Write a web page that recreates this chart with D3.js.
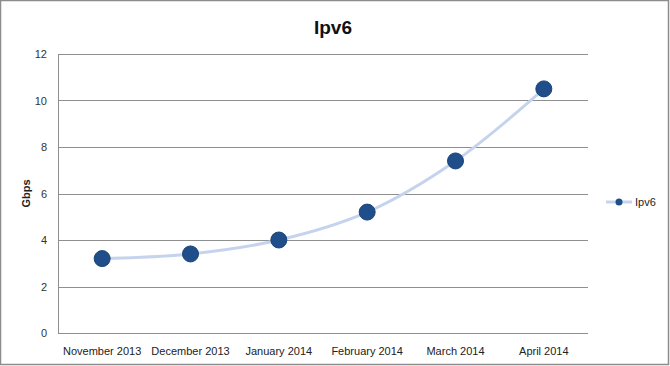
<!DOCTYPE html>
<html><head><meta charset="utf-8">
<script src="https://cdn.jsdelivr.net/npm/d3@7"></script>
<style>body{margin:0;background:#fff}svg{display:block;font-family:"Liberation Sans",Arial,sans-serif}</style>
</head><body>
<svg id="c" width="670" height="366"></svg>
<script>
const categories = ["November 2013","December 2013","January 2014","February 2014","March 2014","April 2014"];
const values = [3.2, 3.4, 4.0, 5.2, 7.4, 10.5];
const yTicks = [0, 2, 4, 6, 8, 10, 12];
const seriesName = "Ipv6";

const svg = d3.select("#c");
const W = 670, H = 366;
const m = {l: 58, r: 82, t: 54, b: 33};
const x = d3.scaleBand().domain(categories).range([m.l, W - m.r]);
const y = d3.scaleLinear().domain([0, 12]).range([H - m.b, m.t]);

svg.append("rect").attr("x", 0.5).attr("y", 0.5).attr("width", W - 2).attr("height", H - 2)
  .attr("fill", "#fff").attr("stroke", "#8c8c8c").attr("stroke-width", 1.5);

// gridlines
svg.append("g").selectAll("line").data(yTicks).join("line")
  .attr("x1", m.l).attr("x2", W - m.r)
  .attr("y1", d => Math.round(y(d)) + 0.5).attr("y2", d => Math.round(y(d)) + 0.5)
  .attr("stroke", "#8f8f8f").attr("stroke-width", 1);
svg.append("line").attr("x1", m.l + 0.5).attr("x2", m.l + 0.5)
  .attr("y1", y(12)).attr("y2", y(0)).attr("stroke", "#8f8f8f");

// y tick labels
svg.append("g").selectAll("text").data(yTicks).join("text")
  .attr("x", m.l - 11).attr("y", d => y(d) + 4).attr("text-anchor", "end")
  .attr("font-size", 11).attr("fill", "#333").text(d => d);

// x labels
svg.append("g").selectAll("text").data(categories).join("text")
  .attr("x", d => x(d) + x.bandwidth() / 2).attr("y", H - m.b + 22)
  .attr("text-anchor", "middle").attr("font-size", 11).attr("fill", "#222").text(d => d);

// y axis title
svg.append("text").attr("transform", `translate(30,${(y(12)+y(0))/2}) rotate(-90)`)
  .attr("text-anchor", "middle").attr("font-size", 11).attr("font-weight", "bold").attr("fill", "#222").text("Gbps");

// title
svg.append("text").attr("x", 333).attr("y", 34).attr("text-anchor", "middle")
  .attr("font-size", 19).attr("font-weight", "bold").attr("fill", "#111").text(seriesName);

const cx = d => x(d) + x.bandwidth() / 2;
const pts = categories.map((c, i) => [cx(c), y(values[i])]);
svg.append("path").attr("d", d3.line().curve(d3.curveCatmullRom.alpha(0.5))(pts))
  .attr("fill", "none").attr("stroke", "#c5d4ec").attr("stroke-width", 3);
svg.append("g").selectAll("circle").data(pts).join("circle")
  .attr("cx", d => d[0]).attr("cy", d => d[1]).attr("r", 8)
  .attr("fill", "#1f4e8a").attr("stroke", "#1a4379").attr("stroke-width", 1);

// legend
const lg = svg.append("g").attr("transform", "translate(606,202)");
lg.append("line").attr("x1", 0).attr("x2", 26).attr("y1", 0).attr("y2", 0).attr("stroke", "#c5d4ec").attr("stroke-width", 3);
lg.append("circle").attr("cx", 13).attr("cy", 0).attr("r", 3.5).attr("fill", "#1f4e8a");
lg.append("text").attr("x", 29).attr("y", 4).attr("font-size", 11).attr("fill", "#222").text(seriesName);
</script>
</body></html>
